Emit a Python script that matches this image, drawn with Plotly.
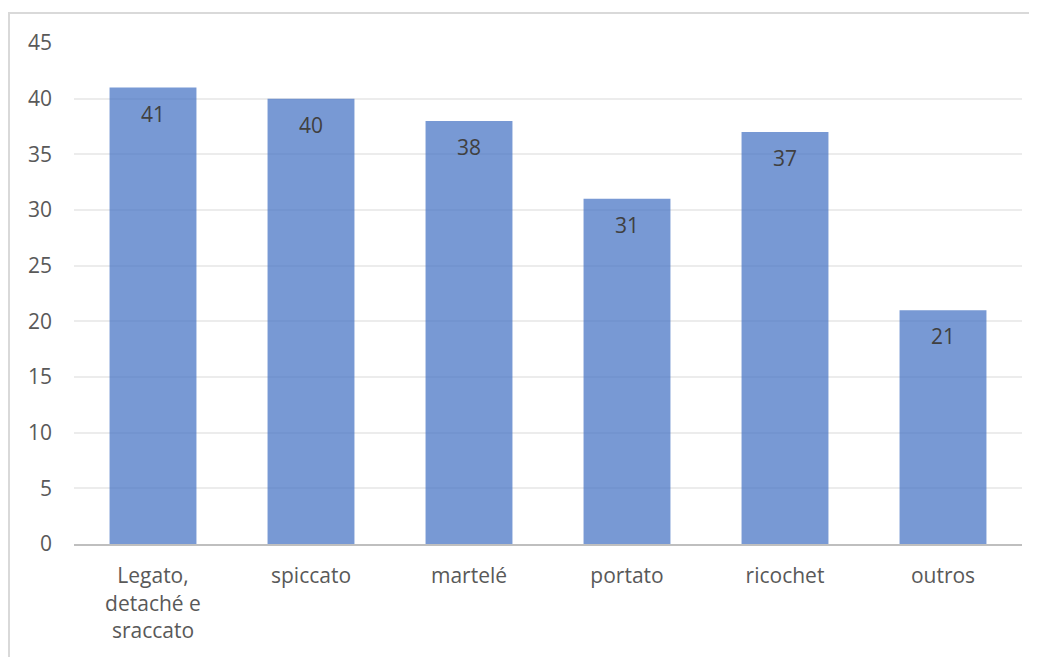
import plotly.graph_objects as go

# bowing techniques
categories = ["Legato,<br>detaché e<br>sraccato", "spiccato", "martelé", "portato", "ricochet", "outros"]
values = [41, 40, 38, 31, 37, 21]
y_ticks = [0, 5, 10, 15, 20, 25, 30, 35, 40, 45]

font_name = "Open Sans"
grey = "#595959"

fig = go.Figure()
fig.add_trace(go.Bar(
    x=categories,
    y=values,
    marker=dict(color="rgba(68,114,196,0.72)", line=dict(width=0)),
    hoverinfo="x+y",
))

# value labels just below the top of each bar
for cat, val in zip(categories, values):
    fig.add_annotation(
        x=cat, y=val, text=str(val), showarrow=False,
        yanchor="middle", yshift=-26,
        font=dict(family=font_name, size=21, color="#404040"),
    )

# page body has an 8px margin, so the figure is shrunk by that much
fig.update_layout(
    width=1029,
    height=649,
    margin=dict(l=66, r=15, t=35, b=113),
    paper_bgcolor="white",
    plot_bgcolor="white",
    bargap=0.45,
    showlegend=False,
    font=dict(family=font_name, size=21, color=grey),
)
fig.update_yaxes(
    range=[0, 45],
    tickvals=y_ticks,
    showgrid=True,
    gridcolor="#ececec",
    gridwidth=1.5,
    zeroline=False,
    showline=False,
    ticks="",
    ticklabelstandoff=21,
    tickfont=dict(family=font_name, size=21, color=grey),
)
fig.update_xaxes(
    showline=True,
    linecolor="#bfbfbf",
    linewidth=2,
    ticks="",
    tickfont=dict(family=font_name, size=21, color=grey),
    ticklabelstandoff=12,
)

# chart-area border like the spreadsheet chart
fig.add_shape(
    type="rect", xref="paper", yref="paper",
    x0=(1 - 66) / 948, x1=(1045 - 66) / 948,
    y0=-(700 - 536) / 501, y1=(536 - 5) / 501,
    line=dict(color="#d9d9d9", width=2), fillcolor="rgba(0,0,0,0)",
    layer="below",
)

fig.write_html("out.html")
